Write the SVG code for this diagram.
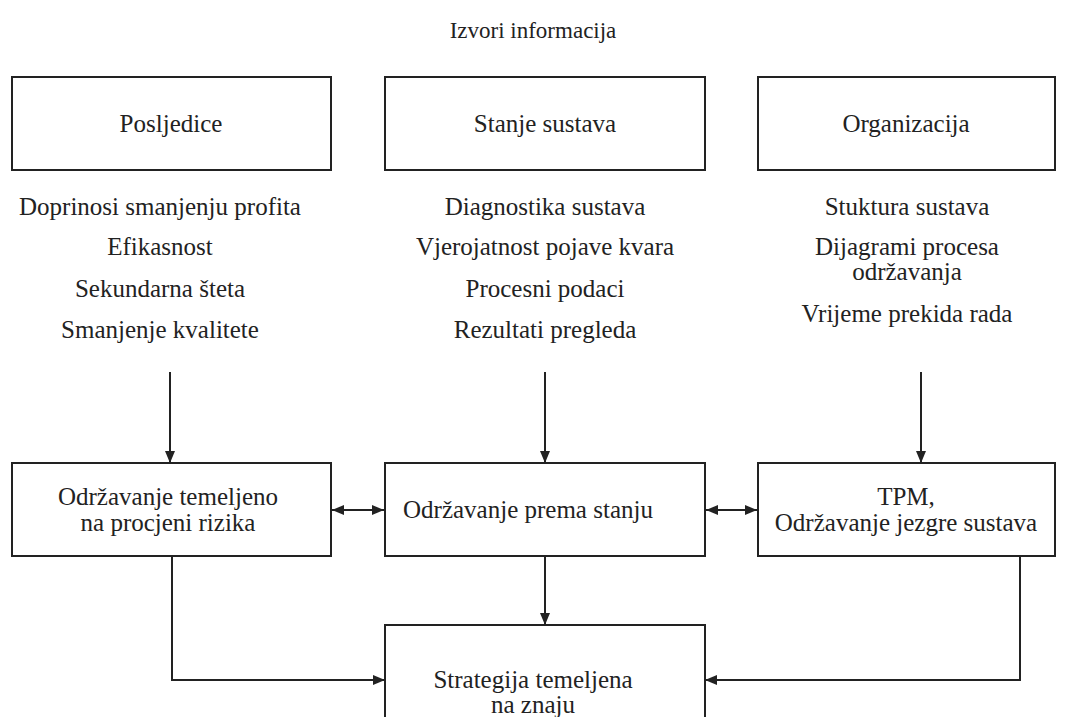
<svg xmlns="http://www.w3.org/2000/svg" width="1067" height="717" viewBox="0 0 1067 717">
<style>
text{font-family:"Liberation Serif","Times New Roman",serif;font-size:25px;fill:#222;text-anchor:middle}
.box{fill:#fff;stroke:#222;stroke-width:2}
.conn{fill:none;stroke:#222;stroke-width:2}
</style>
<defs>
<marker id="ah" viewBox="0 0 12 10" refX="12" refY="5" markerWidth="12" markerHeight="10" markerUnits="userSpaceOnUse" orient="auto-start-reverse">
<path d="M0,0 L12,5 L0,10 z" fill="#222"/>
</marker>
</defs>
<rect width="1067" height="717" fill="#fff"/>
<text x="533" y="38" style="font-size:23px">Izvori informacija</text>
<g id="n-posljedice"><rect class="box" x="12" y="77" width="319" height="93"/><text x="171" y="132">Posljedice</text></g>
<g id="n-stanje"><rect class="box" x="385" y="77" width="320" height="93"/><text x="545" y="132">Stanje sustava</text></g>
<g id="n-organizacija"><rect class="box" x="758" y="77" width="297" height="93"/><text x="906" y="132">Organizacija</text></g>
<g id="l-col1">
<text x="160" y="215">Doprinosi smanjenju profita</text>
<text x="160" y="255">Efikasnost</text>
<text x="160" y="297">Sekundarna šteta</text>
<text x="160" y="338">Smanjenje kvalitete</text>
</g>
<g id="l-col2">
<text x="545" y="215">Diagnostika sustava</text>
<text x="545" y="255">Vjerojatnost pojave kvara</text>
<text x="545" y="297">Procesni podaci</text>
<text x="545" y="338">Rezultati pregleda</text>
</g>
<g id="l-col3">
<text x="907" y="215">Stuktura sustava</text>
<text x="907" y="255">Dijagrami procesa</text>
<text x="907" y="280">održavanja</text>
<text x="907" y="322">Vrijeme prekida rada</text>
</g>
<g id="n-rizik"><rect class="box" x="12" y="463" width="319" height="93"/><text x="168" y="505">Održavanje temeljeno</text><text x="168" y="531">na procjeni rizika</text></g>
<g id="n-stanju"><rect class="box" x="385" y="463" width="320" height="93"/><text x="528" y="518">Održavanje prema stanju</text></g>
<g id="n-tpm"><rect class="box" x="758" y="463" width="297" height="93"/><text x="906" y="505">TPM,</text><text x="906" y="531">Održavanje jezgre sustava</text></g>
<g id="n-strategija"><rect class="box" x="385" y="625" width="320" height="100"/><text x="533" y="688">Strategija temeljena</text><text x="533" y="713">na znaju</text></g>
<g id="connectors">
<line class="conn" x1="170" y1="372" x2="170" y2="463" marker-end="url(#ah)"/>
<line class="conn" x1="545" y1="372" x2="545" y2="463" marker-end="url(#ah)"/>
<line class="conn" x1="921" y1="372" x2="921" y2="463" marker-end="url(#ah)"/>
<line class="conn" x1="332" y1="510" x2="384" y2="510" marker-start="url(#ah)" marker-end="url(#ah)"/>
<line class="conn" x1="706" y1="510" x2="757" y2="510" marker-start="url(#ah)" marker-end="url(#ah)"/>
<line class="conn" x1="545" y1="556" x2="545" y2="625" marker-end="url(#ah)"/>
<polyline class="conn" points="172,556 172,680 385,680" marker-end="url(#ah)"/>
<polyline class="conn" points="1020,556 1020,680 705,680" marker-end="url(#ah)"/>
</g>
</svg>
